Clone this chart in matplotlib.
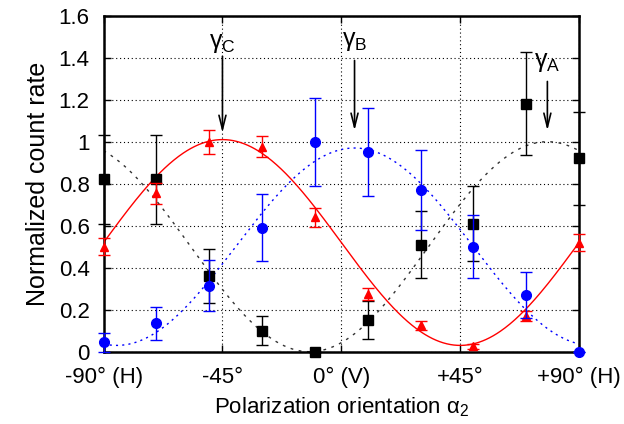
import numpy as np
import matplotlib
matplotlib.use("Agg")
import matplotlib.pyplot as plt

plt.rcParams['font.family'] = ['Liberation Sans', 'DejaVu Sans']
plt.rcParams['mathtext.fontset'] = 'custom'
plt.rcParams['mathtext.rm'] = 'Liberation Sans'
plt.rcParams['mathtext.it'] = 'Liberation Sans:italic'

# measured polarization angles (deg)
angles = [-90, -70, -50, -30, -10, 10, 30, 50, 70, 90]

# black squares
sq_vals = [0.82, 0.82, 0.36, 0.10, 0.00, 0.15, 0.51, 0.61, 1.18, 0.92]
sq_errs = [0.21, 0.21, 0.13, 0.07, 0.00, 0.09, 0.16, 0.18, 0.245, 0.22]

# red triangles
tri_vals = [0.50, 0.755, 1.00, 0.975, 0.64, 0.275, 0.125, 0.025, 0.17, 0.52]
tri_errs = [0.04, 0.05, 0.057, 0.05, 0.045, 0.03, 0.02, 0.01, 0.025, 0.04]

# blue circles
circ_vals = [0.045, 0.135, 0.315, 0.59, 1.00, 0.95, 0.77, 0.50, 0.27, 0.0]
circ_errs = [0.045, 0.08, 0.12, 0.16, 0.21, 0.21, 0.19, 0.15, 0.11, 0.0]

# fitted curves: offset, amplitude, angle of maximum (deg)
fit_red = [0.52, 0.49, -45]
fit_blue = [0.50, 0.47, 5]
fit_black = [0.50, 0.50, 78]

# arrow annotations: label, angle, text y, arrow start y, arrow end y
arrow_labels = [r'$\mathrm{\gamma}_\mathrm{C}$', r'$\mathrm{\gamma}_\mathrm{B}$', r'$\mathrm{\gamma}_\mathrm{A}$']
arrow_x = [-45, 5, 78]
arrow_text_y = [1.47, 1.48, 1.38]
arrow_top = [1.42, 1.40, 1.30]
arrow_tip = [1.03, 1.04, 1.04]

xticks = [-90, -45, 0, 45, 90]
xtick_labels = ['-90° (H)', '-45°', '0° (V)', '+45°', '+90° (H)']
yticks = [0, 0.2, 0.4, 0.6, 0.8, 1, 1.2, 1.4, 1.6]
ytick_labels = ['0', '0.2', '0.4', '0.6', '0.8', '1', '1.2', '1.4', '1.6']


def fit_curve(x, p):
    c, a, x0 = p
    return c + a * np.cos(np.radians(2 * (x - x0)))


fig = plt.figure(figsize=(6.24, 4.24), dpi=100)
ax = fig.add_axes([0.166, 0.1705, 0.762, 0.7925])

xs = np.linspace(-90, 90, 400)
ax.plot(xs, fit_curve(xs, fit_black), color='#333333', lw=1.0,
        linestyle=(0, (2, 4)), zorder=2)
ax.plot(xs, fit_curve(xs, fit_blue), color='blue', lw=1.0,
        linestyle=(0, (1.5, 3)), zorder=2)
ax.plot(xs, fit_curve(xs, fit_red), color='red', lw=1.0, zorder=2)

ax.errorbar(angles, sq_vals, yerr=sq_errs, fmt='s', color='black', ms=7,
            elinewidth=1.0, capsize=4, capthick=1.0, clip_on=False, zorder=4)
ax.errorbar(angles, tri_vals, yerr=tri_errs, fmt='^', color='red', ms=6,
            elinewidth=1.0, capsize=4, capthick=1.0, clip_on=False, zorder=5)
ax.errorbar(angles, circ_vals, yerr=circ_errs, fmt='o', color='blue', ms=7,
            elinewidth=1.0, capsize=4, capthick=1.0, clip_on=False, zorder=6)

for lab, xa, ty, y0, y1 in zip(arrow_labels, arrow_x, arrow_text_y, arrow_top, arrow_tip):
    ax.annotate('', xy=(xa, y1), xytext=(xa, y0),
                arrowprops=dict(arrowstyle='->,head_length=1.0,head_width=0.25',
                                color='black', lw=1.2), zorder=7)
    ax.text(xa, ty, lab, fontsize=18, ha='center', va='center', zorder=7)

ax.set_xlim(-90, 90)
ax.set_ylim(0, 1.6)
ax.set_xticks(xticks)
ax.set_xticklabels(xtick_labels, fontsize=16)
ax.set_yticks(yticks)
ax.set_yticklabels(ytick_labels, fontsize=16)
ax.tick_params(axis='x', direction='in', length=5, width=1, top=True, pad=11)
ax.tick_params(axis='y', direction='in', length=5, width=1, right=True, pad=10)

ax.grid(True, color='black', linestyle=(0, (1, 2.5)), lw=0.8)
ax.set_axisbelow(True)
for s in ax.spines.values():
    s.set_linewidth(1.8)

ax.set_xlabel(r'Polarization orientation $\mathrm{\alpha}_2$', fontsize=16, labelpad=5)
ax.set_ylabel('Normalized count rate', fontsize=18, labelpad=6)

fig.savefig('out.png', dpi=100)
